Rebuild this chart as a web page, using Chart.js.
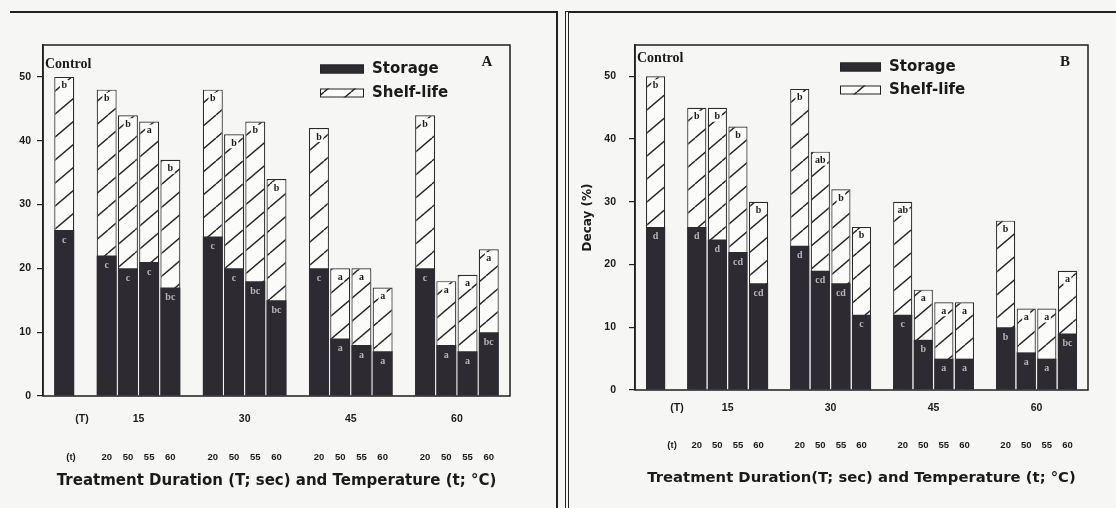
<!DOCTYPE html>
<html>
<head>
<meta charset="utf-8">
<script src="https://cdn.jsdelivr.net/npm/chart.js@4"></script>
<style>
  body { margin: 0; width: 1116px; height: 508px; background: #f6f6f4; position: relative; overflow: hidden; }
  #frameA { position: absolute; left: 10px; top: 11px; width: 546px; height: 510px; border-top: 2px solid #222; border-right: 2px solid #222; }
  #frameB { position: absolute; left: 565px; top: 11px; width: 560px; height: 510px; border-top: 2px solid #222; border-left: 4px double #222; }
  #chartA { position: absolute; left: 0; top: 0; }
  #chartB { position: absolute; left: 560px; top: 0; }
</style>
</head>
<body>
<div id="frameA"></div>
<div id="frameB"></div>
<canvas id="chartA" width="556" height="508"></canvas>
<canvas id="chartB" width="556" height="508"></canvas>
<script>
// bars: control, then 15/30/45/60 sec at 20/50/55/60 °C
const categories = ['Control', '20', '50', '55', '60', '20', '50', '55', '60', '20', '50', '55', '60', '20', '50', '55', '60'];
const durationLabels = ['(T)', '15', '30', '45', '60'];
const yTicks = [0, 10, 20, 30, 40, 50];

// panel A (shelf-life = total bar height)
const storageA = [26, 22, 20, 21, 17, 25, 20, 18, 15, 20, 9, 8, 7, 20, 8, 7, 10];
const shelfA   = [50, 48, 44, 43, 37, 48, 41, 43, 34, 42, 20, 20, 17, 44, 18, 19, 23];
const storeLettersA = ['c', 'c', 'c', 'c', 'bc', 'c', 'c', 'bc', 'bc', 'c', 'a', 'a', 'a', 'c', 'a', 'a', 'bc'];
const shelfLettersA = ['b', 'b', 'b', 'a', 'b', 'b', 'b', 'b', 'b', 'b', 'a', 'a', 'a', 'b', 'a', 'a', 'a'];

// panel B
const storageB = [26, 26, 24, 22, 17, 23, 19, 17, 12, 12, 8, 5, 5, 10, 6, 5, 9];
const shelfB   = [50, 45, 45, 42, 30, 48, 38, 32, 26, 30, 16, 14, 14, 27, 13, 13, 19];
const storeLettersB = ['d', 'd', 'd', 'cd', 'cd', 'd', 'cd', 'cd', 'c', 'c', 'b', 'a', 'a', 'b', 'a', 'a', 'bc'];
const shelfLettersB = ['b', 'b', 'b', 'b', 'b', 'b', 'ab', 'b', 'b', 'ab', 'a', 'a', 'a', 'b', 'a', 'a', 'a'];

// 23 slots: blank, control, blank, 4 bars, blank, 4 bars, ... , blank
const NSLOT = 23;
function slotIndex(i) {
  return i === 0 ? 1 : 3 + Math.floor((i - 1) / 4) * 5 + (i - 1) % 4;
}
function toSlots(arr) {
  const out = new Array(NSLOT).fill(null);
  arr.forEach((v, i) => { out[slotIndex(i)] = v; });
  return out;
}
const slotLabels = toSlots(categories).map(v => v === null ? '' : v);
const groupCenters = [0, 1, 2, 3].map(g => slotIndex(1 + g * 4) + 1.5);
const tempPositions = categories.slice(1).map((c, i) => slotIndex(i + 1));
const tempRow = ['(t)'].concat(categories.slice(1));

const hatch = (() => {
  const W = 27, H = 23;
  const c = document.createElement('canvas');
  c.width = W; c.height = H;
  const g = c.getContext('2d');
  g.fillStyle = '#fbfbf9';
  g.fillRect(0, 0, W, H);
  g.strokeStyle = '#262626';
  g.lineWidth = 1.4;
  g.beginPath();
  for (const dx of [-W, 0, W]) { g.moveTo(dx, H); g.lineTo(dx + W, 0); }
  g.stroke();
  return g.createPattern(c, 'repeat');
})();

const ink = '#1a1a1a';

const decor = {
  id: 'decor',
  afterDatasetsDraw(chart, args, o) {
    const { ctx, chartArea: a } = chart;
    ctx.save();
    ctx.textAlign = 'center';
    ctx.textBaseline = 'middle';
    ctx.font = 'bold 10px "Liberation Serif"';
    const sl = toSlots(o.shelfLetters), st = toSlots(o.storeLetters);
    chart.getDatasetMeta(1).data.forEach((el, i) => {
      if (!sl[i]) return;
      const w = ctx.measureText(sl[i]).width + 3;
      ctx.fillStyle = '#fbfbf9';
      ctx.fillRect(el.x - w / 2, el.y + 3, w, 11);
      ctx.fillStyle = ink;
      ctx.fillText(sl[i], el.x, el.y + 9);
    });
    chart.getDatasetMeta(0).data.forEach((el, i) => {
      if (!st[i]) return;
      ctx.fillStyle = '#b5b5b5';
      ctx.fillText(st[i], el.x, el.y + 10);
    });

    // plot frame
    ctx.strokeStyle = '#1e1e1e';
    ctx.lineWidth = 1.5;
    ctx.strokeRect(a.left, a.top, a.right - a.left, a.bottom - a.top);

    // legend inside the plot
    chart.data.datasets.forEach((ds, k) => {
      const x = a.left + o.legendX, y = o.legendY[k];
      ctx.fillStyle = ds.backgroundColor;
      ctx.fillRect(x, y - 4.5, o.swatchW, 9);
      ctx.strokeStyle = '#222';
      ctx.lineWidth = 1;
      ctx.strokeRect(x + 0.5, y - 4, o.swatchW - 1, 8);
      ctx.fillStyle = ink;
      ctx.font = 'bold 15px "DejaVu Sans"';
      ctx.textAlign = 'left';
      ctx.fillText(ds.label, x + o.swatchW + 8, y);
    });

    ctx.font = 'bold 15px "Liberation Serif"';
    ctx.textAlign = 'center';
    ctx.fillText(o.panel, a.right - 23, 62);
    ctx.font = 'bold 14px "Liberation Serif"';
    ctx.textAlign = 'left';
    ctx.fillText(categories[0], a.left + 2, o.controlY);
    ctx.restore();
  }
};

function makeChart(id, storage, shelf, storeLetters, shelfLetters, o) {
  const tickFont = { family: 'Liberation Sans', size: 10.5, weight: 'bold' };
  return new Chart(document.getElementById(id), {
    type: 'bar',
    data: {
      labels: slotLabels,
      datasets: [
        { label: 'Storage', data: toSlots(storage), backgroundColor: '#2e2a31', borderWidth: 0,
          grouped: false, barPercentage: o.bar, categoryPercentage: 1, xAxisID: 'x', yAxisID: 'y' },
        { label: 'Shelf-life', data: toSlots(shelf), backgroundColor: hatch, borderColor: '#2a2a2a', borderWidth: 1.2,
          grouped: false, barPercentage: o.bar, categoryPercentage: 1, xAxisID: 'x', yAxisID: 'y' }
      ]
    },
    options: {
      responsive: false,
      animation: false,
      layout: { padding: o.padding },
      plugins: {
        legend: { display: false },
        tooltip: { enabled: false },
        decor: { panel: o.panel, legendX: o.legendX, legendY: o.legendY, swatchW: o.swatchW, controlY: o.controlY,
                 storeLetters: storeLetters, shelfLetters: shelfLetters }
      },
      scales: {
        x: { type: 'category', display: false, offset: false },
        xT: {
          type: 'linear', position: 'bottom', min: 0, max: NSLOT - 1, weight: 1, offset: false,
          grid: { display: false, offset: false }, border: { display: false },
          afterBuildTicks: s => { s.ticks = [o.tMark].concat(groupCenters).map(v => ({ value: v })); },
          ticks: { autoSkip: false, maxRotation: 0, padding: o.tPad, font: tickFont, color: ink,
                   callback: (v, i) => durationLabels[i] },
          afterFit: s => { s.height = o.tH; }
        },
        xt: {
          type: 'linear', position: 'bottom', min: 0, max: NSLOT - 1, weight: 2, offset: false,
          grid: { display: false, offset: false }, border: { display: false },
          afterBuildTicks: s => { s.ticks = [o.tempMark].concat(tempPositions).map(v => ({ value: v })); },
          ticks: { autoSkip: false, maxRotation: 0, padding: o.tempPad,
                   font: { family: 'Liberation Sans', size: 9.5, weight: 'bold' }, color: ink,
                   callback: (v, i) => tempRow[i] },
          title: { display: true, text: o.xTitle, color: ink, padding: { top: 0, bottom: 0 },
                   font: { family: 'DejaVu Sans', size: o.titleSize, weight: 'bold' } },
          afterFit: s => { s.height = o.tempH; }
        },
        y: {
          min: 0, max: 55,
          afterBuildTicks: s => { s.ticks = yTicks.map(v => ({ value: v })); },
          grid: { drawOnChartArea: false, tickLength: 6, color: '#222', lineWidth: 1.2 },
          border: { display: true, color: '#222', width: 1.5 },
          ticks: { padding: o.yPad, font: tickFont, color: ink },
          title: o.yTitle,
          afterFit: s => { s.width = o.yW; }
        }
      }
    },
    plugins: [decor]
  });
}

makeChart('chartA', storageA, shelfA, storeLettersA, shelfLettersA, {
  panel: 'A', bar: 0.94,
  padding: { left: 0, right: 46, top: 45, bottom: 18.2 },
  yW: 43, yPad: 6, yTitle: { display: false },
  tMark: 1.84, tPad: 9, tH: 40,
  tempMark: 1.32, tempPad: 8, tempH: 53.8,
  xTitle: 'Treatment Duration (T; sec) and Temperature (t; °C)', titleSize: 15,
  legendX: 277, legendY: [69, 93], swatchW: 44, controlY: 64
});

makeChart('chartB', storageB, shelfB, storeLettersB, shelfLettersB, {
  panel: 'B', bar: 0.93,
  padding: { left: 0, right: 28, top: 45, bottom: 21.2 },
  yW: 75, yPad: 13,
  yTitle: { display: true, text: 'Decay (%)', color: ink, padding: { top: 21, bottom: 0 },
            font: { family: 'DejaVu Sans', size: 12, weight: 'bold' } },
  tMark: 2.04, tPad: 4, tH: 30,
  tempMark: 1.8, tempPad: 11.3, tempH: 66.8,
  xTitle: 'Treatment Duration(T; sec) and Temperature (t; °C)', titleSize: 14.8,
  legendX: 205, legendY: [67, 90], swatchW: 41, controlY: 58
});
</script>
</body>
</html>
